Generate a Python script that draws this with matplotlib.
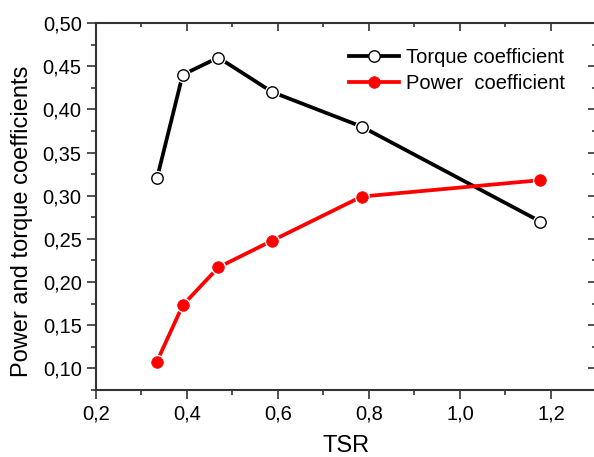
import matplotlib
matplotlib.use("Agg")
import matplotlib.pyplot as plt
from matplotlib.lines import Line2D
from matplotlib.ticker import MultipleLocator, FuncFormatter

plt.rcParams['font.family'] = ['Liberation Sans', 'DejaVu Sans']

# Tip speed ratio and the two coefficients
tsr = [0.334, 0.3905, 0.469, 0.5875, 0.784, 1.177]
torque_coef = [0.32, 0.44, 0.46, 0.42, 0.38, 0.27]
power_coef = [0.108, 0.173, 0.217, 0.248, 0.299, 0.318]
labels = ['Torque coefficient', 'Power  coefficient']

fig = plt.figure(figsize=(5.94, 4.57), dpi=100)
ax = fig.add_axes([0.1616, 0.1466, 0.8425, 0.8031])

LW = 2.7
styles = [
    dict(color='black', mfc='white', mec='black', ms=8.2, mew=1.0),
    dict(color='#ff0000', mfc='#ff0000', mec='#ff0000', ms=8.4, mew=0.5),
]
handles = []
for vals, st, lab in zip([torque_coef, power_coef], styles, labels):
    # connecting line
    ax.plot(tsr, vals, color=st['color'], lw=LW, zorder=2, solid_capstyle='butt')
    # white halo leaves a small gap between line and marker
    ax.plot(tsr, vals, ls='none', marker='o', ms=11.0, mfc='white', mec='none', zorder=3)
    ax.plot(tsr, vals, ls='none', marker='o', ms=st['ms'], mfc=st['mfc'],
            mec=st['mec'], mew=st['mew'], zorder=4)
    handles.append(Line2D([], [], color=st['color'], lw=LW, marker='o', ms=st['ms'],
                          mfc=st['mfc'], mec=st['mec'], mew=st['mew'], label=lab))

ax.set_xlim(0.2, 1.3)
ax.set_ylim(0.075, 0.50)

comma = lambda fmt: FuncFormatter(lambda v, p: (fmt % v).replace('.', ','))
ax.xaxis.set_major_locator(MultipleLocator(0.2))
ax.xaxis.set_minor_locator(MultipleLocator(0.1))
ax.yaxis.set_major_locator(MultipleLocator(0.05))
ax.yaxis.set_minor_locator(MultipleLocator(0.025))
ax.xaxis.set_major_formatter(comma('%.1f'))
ax.yaxis.set_major_formatter(comma('%.2f'))

spine_col = '#333333'
for s in ax.spines.values():
    s.set_color(spine_col)
    s.set_linewidth(1.5)

ax.tick_params(which='both', direction='out', color=spine_col, width=1.2,
               labelsize=14.5, top=False, right=False)
ax.tick_params(which='major', length=6.3, pad=4)
ax.tick_params(which='minor', length=3.5)

# Inward ticks on top and right edges, without labels
top = ax.secondary_xaxis('top')
top.xaxis.set_major_locator(MultipleLocator(0.2))
top.xaxis.set_minor_locator(MultipleLocator(0.1))
top.tick_params(which='both', direction='in', color=spine_col, width=1.2,
                labeltop=False)
top.tick_params(which='major', length=6)
top.tick_params(which='minor', length=3)
top.spines['top'].set_visible(False)

right = ax.secondary_yaxis('right')
right.yaxis.set_major_locator(MultipleLocator(0.05))
right.yaxis.set_minor_locator(MultipleLocator(0.025))
right.tick_params(which='both', direction='in', color=spine_col, width=1.2,
                  labelright=False)
right.tick_params(which='major', length=6)
right.tick_params(which='minor', length=3)
right.spines['right'].set_visible(False)

ax.set_xlabel('TSR', fontsize=17)
ax.xaxis.set_label_coords(0.5, -0.123)
ax.set_ylabel('Power and torque coefficients', fontsize=17)
ax.yaxis.set_label_coords(-0.125, 0.459)

ax.legend(handles=handles, loc='upper left', bbox_to_anchor=(0.5875, 0.8955),
          bbox_transform=fig.transFigure, frameon=False, fontsize=14.5,
          handlelength=2.49, handletextpad=0.35, labelspacing=0.35,
          borderpad=0, borderaxespad=0)

fig.savefig('out.png', dpi=100)
